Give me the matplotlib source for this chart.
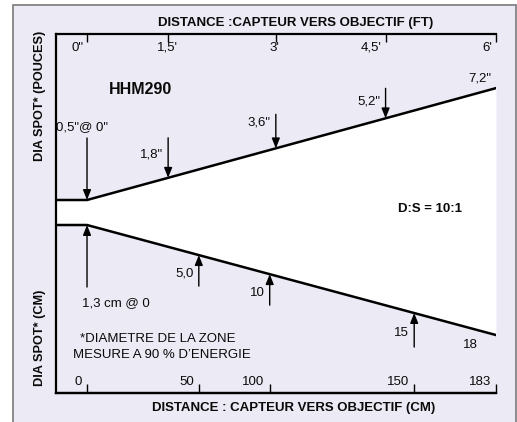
import numpy as np
import matplotlib.pyplot as plt
from matplotlib.patches import Rectangle

plt.rcParams['font.family'] = ['Liberation Sans', 'DejaVu Sans']

# distance ticks (positions along the schematic, the original is not to scale)
ft_labels = ['0"', "1,5'", "3'", "4,5'", "6'"]
ft_pos = [0, 1.19, 2.77, 4.38, 6.0]
cm_labels = ['0', '50', '100', '150', '183']
cm_pos = [0, 1.64, 2.68, 4.80, 6.0]

# spot diameters
spot_in = [0.5, 1.8, 3.6, 5.2, 7.2]
spot_cm = [1.3, 5.0, 10, 15, 18]

W, H = 517, 422
BG = '#eceaf4'


def fig_xy(x, y):
    return x / W, 1 - y / H


# schematic half-width of the cone (pixel-ish units)
def half_in(s):
    return 12.5 + (s - spot_in[0]) * 16.7


def half_cm(s):
    return 12.5 + (s - spot_cm[0]) * 6.59


fig = plt.figure(figsize=(W / 100, H / 100), dpi=100)
fig.patch.set_facecolor('white')
fig.patches.append(Rectangle((13 / W, -0.05), (516 - 13) / W, 1.05 - 5 / H,
                             transform=fig.transFigure, facecolor=BG,
                             edgecolor='#7a7a7a', lw=1.2, zorder=-10))

ax = fig.add_axes([56 / W, (H - 393) / H, 440 / W, 359 / H])
ax.set_facecolor('none')
x0, x1 = -0.455, 6.0
ax.set_xlim(x0, x1)
ax.set_ylim(-180.5, 178.5)
ax.set_yticks([])
for s in ['top', 'left', 'bottom']:
    ax.spines[s].set_linewidth(1.6)
ax.spines['right'].set_visible(False)

ax.xaxis.set_ticks_position('top')
ax.set_xticks(ft_pos)
ax.tick_params(axis='x', direction='in', length=6, width=1, labeltop=False, labelbottom=False)
sec = ax.secondary_xaxis('bottom')
sec.set_xticks(cm_pos)
sec.tick_params(direction='in', length=6.5, width=1, labelbottom=False)
sec.spines['bottom'].set_linewidth(1.6)

# cone
x_edge = np.array([x0, ft_pos[0], ft_pos[-1]])
up = np.interp(x_edge, [ft_pos[0], ft_pos[-1]], [half_in(spot_in[0]), half_in(spot_in[-1])])
lo = -np.interp(x_edge, [cm_pos[0], cm_pos[-1]], [half_cm(spot_cm[0]), half_cm(spot_cm[-1])])
ax.fill_between(x_edge, lo, up, color='white', lw=0, zorder=1)
ax.plot(x_edge, up, color='k', lw=1.8, zorder=3)
ax.plot(x_edge, lo, color='k', lw=1.8, zorder=3)

arrow = dict(arrowstyle='-|>,head_length=0.55,head_width=0.22', color='k', lw=1,
             mutation_scale=11, shrinkA=0, shrinkB=0)
txt = dict(fontsize=9.5, color='#0a0a0a', textcoords='offset pixels')

up_len = [62, 40, 34, 30]
up_dy = [11, 3, 9, 2]
for i, (x, s) in enumerate(zip(ft_pos, spot_in)):
    tip = np.interp(x, [ft_pos[0], ft_pos[-1]], [half_in(spot_in[0]), half_in(spot_in[-1])])
    lab = str(s).replace('.', ',') + '"'
    if i < 4:
        tail = tip + up_len[i]
        ax.annotate('', xy=(x, tip), xytext=(x, tail), arrowprops=arrow, zorder=4)
    if i == 0:
        ax.annotate(lab + '@ 0"', xy=(x, tail), xytext=(-5, up_dy[i]), ha='center', va='center', **txt)
    elif i < 4:
        ax.annotate(lab, xy=(x, (tip + tail) / 2), xytext=(-5, up_dy[i]), ha='right', va='center', **txt)
    else:
        ax.annotate(lab, xy=(x, tip), xytext=(-5, 10), ha='right', va='center', **txt)

lo_len = [62, 31, 31, 34]
for i, (x, s) in enumerate(zip(cm_pos, spot_cm)):
    tip = -np.interp(x, [cm_pos[0], cm_pos[-1]], [half_cm(spot_cm[0]), half_cm(spot_cm[-1])])
    lab = str(s).replace('.', ',')
    if i < 4:
        tail = tip - lo_len[i]
        ax.annotate('', xy=(x, tip), xytext=(x, tail), arrowprops=arrow, zorder=4)
    if i == 0:
        ax.annotate(lab + ' cm @ 0', xy=(x, tail), xytext=(-5, -16), ha='left', va='center', **txt)
    elif i < 4:
        ax.annotate(lab, xy=(x, (tip + tail) / 2), xytext=(-5, -3), ha='right', va='center', **txt)
    else:
        ax.annotate(lab, xy=(x, tip), xytext=(-18, -10), ha='right', va='center', **txt)

# tick labels
top_ha = ['right', 'center', 'center', 'right', 'right']
for x, lab, ha in zip(ft_pos, ft_labels, top_ha):
    dx = -4 if ha == 'right' else -1
    ax.annotate(lab, xy=(x, 178.5), xytext=(dx, -14), ha=ha, va='center', **txt)
for x, lab in zip(cm_pos, cm_labels):
    ax.annotate(lab, xy=(x, -180.5), xytext=(-5, 11), ha='right', va='center', **txt)

bold = dict(fontweight='bold', color='#0a0a0a', ha='center', va='center')
fig.text(*fig_xy(295.5, 23), 'DISTANCE :CAPTEUR VERS OBJECTIF (FT)', fontsize=9.5, **bold)
fig.text(*fig_xy(294, 408), 'DISTANCE : CAPTEUR VERS OBJECTIF (CM)', fontsize=9.5, **bold)
fig.text(*fig_xy(40, 96), 'DIA SPOT* (POUCES)', fontsize=9.2, rotation=90, **bold)
fig.text(*fig_xy(40, 337.5), 'DIA SPOT* (CM)', fontsize=9.2, rotation=90, **bold)
fig.text(*fig_xy(140, 90), 'HHM290', fontsize=11.5, **bold)
fig.text(*fig_xy(430, 209), 'D:S = 10:1', fontsize=9.5, **bold)
fig.text(*fig_xy(158, 339), '*DIAMETRE DE LA ZONE', fontsize=9.5, color='#0a0a0a', ha='center', va='center')
fig.text(*fig_xy(161.5, 355), 'MESURE A 90 % D\u2019ENERGIE', fontsize=9.5, color='#0a0a0a', ha='center', va='center')

fig.savefig('out.png', dpi=100)
